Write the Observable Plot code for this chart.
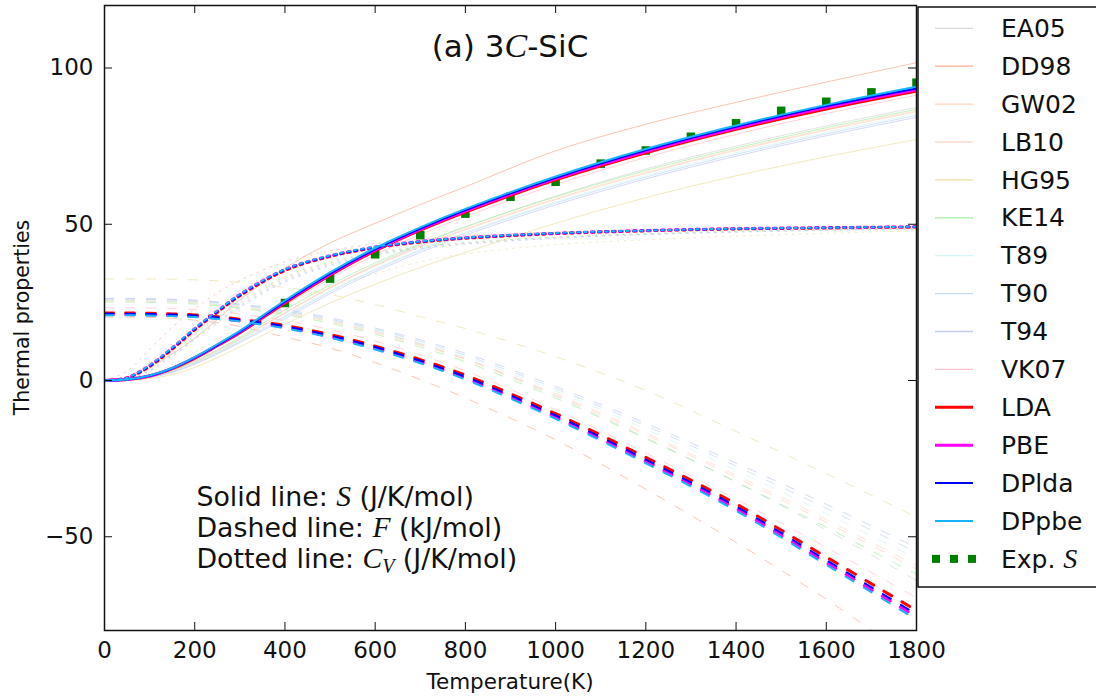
<!DOCTYPE html>
<html><head><meta charset="utf-8">
<script src="https://cdn.jsdelivr.net/npm/d3@7"></script>
<script src="https://cdn.jsdelivr.net/npm/@observablehq/plot@0.6"></script>
<style>
body{margin:0;background:#fff;}
#wrap{position:relative;width:1096px;height:699px;}
</style></head><body><div id="wrap"></div>
<script>
// Temperatures (K) at which curves were read
const temps = [0, 50, 100, 150, 200, 250, 300, 400, 500, 600, 700, 800, 1000, 1200, 1400, 1600, 1800];

const seriesNames  = ["EA05","DD98","GW02","LB10","HG95","KE14","T89","T90","T94","VK07","LDA","PBE","DPlda","DPpbe"];
const seriesColors = ["#d6d8de","#f8ae94","#fdd3bd","#fdd9c8","#ece0a2","#a6eea0","#d4f5f5","#c2d9ef","#c4ccf0","#ffc2cb","#ff0000","#ff00ff","#0000ff","#14b4ff"];
const seriesWidths = [1,1,1,1,1,1,1,1,1,1,3,3,2,2];

// Entropy S (J/K/mol) -- solid lines
const S_EA05  = [0,0.2,1.1,3.0,5.8,9.3,13.2,21.5,29.8,37.0,43.4,49.1,59.0,67.7,75.0,81.5,87.4];
const S_DD98  = [0,0.8,4.0,8.5,13.5,19.5,25.8,36.0,44.0,50.3,56.3,62.0,73.5,82.0,89.0,95.5,101.7];
const S_GW02  = [0,0.2,1.1,3.0,5.9,9.4,13.3,21.6,29.6,36.6,42.8,48.2,57.9,66.3,73.6,80.1,86.0];
const S_LB10  = [0,0.2,1.1,3.1,6.0,9.5,13.4,21.8,29.8,36.8,43.0,48.5,58.2,66.6,73.9,80.4,86.3];
const S_HG95  = [0,0.1,0.6,1.9,4.2,7.3,10.8,18.0,24.8,30.8,36.2,41.0,50.3,58.5,65.5,71.6,77.1];
const S_KE14  = [0,0.2,1.2,3.2,6.2,9.8,13.8,22.6,30.6,37.6,43.8,49.2,58.8,67.2,74.4,80.9,86.8];
const S_T89   = [0,0.2,1.0,2.8,5.6,9.0,12.8,20.8,28.8,35.8,42.0,47.5,57.2,65.6,72.9,79.4,85.3];
const S_T90   = [0,0.2,1.0,2.7,5.4,8.8,12.5,20.4,28.4,35.4,41.6,47.1,56.8,65.1,72.4,78.9,84.8];
const S_T94   = [0,0.2,0.9,2.6,5.2,8.5,12.1,19.8,27.8,34.8,41.0,46.5,56.2,64.5,71.8,78.3,84.2];
const S_VK07  = [0,0.3,1.4,3.7,7.0,10.8,14.9,24.0,32.6,40.2,46.7,52.5,62.7,71.4,78.8,85.4,91.3];
const S_LDA   = [0,0.3,1.4,3.8,7.1,11.1,15.3,24.8,33.7,41.5,48.1,53.9,64.2,72.9,80.4,86.9,92.6];
const S_PBE   = [0,0.3,1.5,3.9,7.3,11.3,15.5,25.1,34.0,41.8,48.4,54.2,64.6,73.3,80.8,87.4,93.1];
const S_DPlda = [0,0.3,1.5,3.9,7.3,11.3,15.6,25.2,34.2,42.0,48.6,54.5,64.9,73.7,81.2,87.8,93.5];
const S_DPpbe = [0,0.3,1.6,4.0,7.5,11.6,15.9,25.6,34.6,42.4,49.0,54.9,65.3,74.1,81.6,88.2,94.0];

// Free energy F (kJ/mol) -- dashed lines
const F_EA05  = [26.2,26.2,26.1,25.9,25.6,25.0,24.2,22.2,19.4,15.9,11.7,6.9,-5.0,-18.3,-32.5,-47.8,-64.0];
const F_DD98  = [20.3,20.3,20.2,19.9,19.3,18.5,17.3,13.9,10.4,5.7,0.3,-5.6,-19.0,-34.8,-51.8,-70.0,-90.0];
const F_GW02  = [25.5,25.5,25.4,25.2,24.9,24.3,23.5,21.5,18.8,15.3,11.3,6.7,-4.6,-17.4,-31.0,-45.4,-60.3];
const F_LB10  = [25.6,25.6,25.5,25.3,25.0,24.4,23.6,21.7,19.0,15.6,11.6,7.0,-4.2,-16.8,-30.3,-44.5,-59.2];
const F_HG95  = [32.5,32.5,32.5,32.4,32.2,31.9,31.4,29.8,27.5,24.3,20.4,16.6,7.6,-3.2,-16.3,-29.8,-43.7];
const F_KE14  = [25.1,25.1,25.0,24.8,24.5,23.9,23.1,21.1,18.3,14.8,10.7,6.0,-5.6,-18.6,-32.4,-47.0,-62.0];
const F_T89   = [25.8,25.8,25.7,25.5,25.2,24.6,23.9,22.0,19.3,15.9,12.0,7.5,-3.4,-15.6,-28.8,-42.6,-57.0];
const F_T90   = [26.0,26.0,25.9,25.7,25.4,24.9,24.2,22.3,19.7,16.4,12.5,8.1,-2.6,-14.5,-27.4,-40.9,-55.0];
const F_T94   = [26.3,26.3,26.2,26.0,25.7,25.2,24.5,22.7,20.1,16.8,13.0,8.7,-1.9,-13.7,-26.4,-39.6,-53.5];
const F_VK07  = [23.3,23.3,23.2,23.0,22.7,22.1,21.3,19.2,16.3,12.6,8.2,3.1,-9.3,-23.2,-38.0,-53.4,-69.5];
const F_LDA   = [21.6,21.6,21.5,21.3,21.0,20.4,19.6,17.6,14.7,11.0,6.7,1.7,-10.6,-24.6,-39.5,-56.5,-73.6];
const F_PBE   = [21.1,21.1,21.0,20.8,20.5,19.9,19.1,17.0,14.0,10.3,5.9,0.8,-11.7,-25.9,-41.0,-58.3,-75.6];
const F_DPlda = [21.4,21.4,21.3,21.1,20.8,20.2,19.4,17.3,14.4,10.7,6.3,1.2,-11.2,-25.3,-40.3,-57.5,-74.8];
const F_DPpbe = [20.9,20.9,20.8,20.6,20.3,19.7,18.9,16.7,13.7,9.9,5.5,0.3,-12.3,-26.5,-41.7,-59.0,-76.5];

// Heat capacity Cv (J/K/mol) -- dotted lines
const Cv_EA05  = [0,0.5,3.4,8.3,13.8,19.2,24.2,32.2,37.3,40.5,42.5,43.9,45.7,46.8,47.6,48.2,48.6];
const Cv_DD98  = [0,3.0,10.0,17.0,23.0,28.0,32.0,38.0,41.5,43.8,45.3,46.2,47.5,48.2,48.6,48.9,49.1];
const Cv_GW02  = [0,0.6,3.8,8.9,14.5,19.9,24.8,32.7,37.6,40.7,42.7,44.0,45.8,46.9,47.7,48.2,48.6];
const Cv_LB10  = [0,0.6,3.7,8.8,14.4,19.8,24.7,32.6,37.6,40.7,42.7,44.0,45.8,46.9,47.7,48.2,48.6];
const Cv_HG95  = [0,0.2,1.8,5.0,9.0,13.2,17.3,24.5,30.0,34.2,38.0,40.5,43.5,45.0,46.2,47.1,47.9];
const Cv_KE14  = [0,0.7,4.1,9.4,15.1,20.5,25.4,33.2,38.0,41.0,42.9,44.2,45.9,47.0,47.8,48.3,48.7];
const Cv_T89   = [0,0.5,3.3,8.1,13.5,18.9,23.9,31.9,37.0,40.3,42.4,43.8,45.6,46.8,47.6,48.1,48.5];
const Cv_T90   = [0,0.5,3.2,8.0,13.3,18.7,23.7,31.7,36.9,40.2,42.3,43.7,45.6,46.7,47.5,48.1,48.5];
const Cv_T94   = [0,0.4,3.0,7.7,13.0,18.4,23.4,31.5,36.7,40.1,42.2,43.6,45.5,46.7,47.5,48.0,48.5];
const Cv_VK07  = [0,1.2,5.8,11.8,18.0,23.5,28.5,36.0,40.2,42.9,44.6,45.8,47.2,48.0,48.6,48.9,49.2];
const Cv_LDA   = [0,0.8,4.5,10.0,16.2,21.8,27.1,35.2,39.7,42.5,44.3,45.5,47.0,47.9,48.5,48.8,49.1];
const Cv_PBE   = [0,0.9,4.8,10.4,16.6,22.2,27.5,35.5,39.9,42.7,44.5,45.7,47.1,48.0,48.6,48.9,49.2];
const Cv_DPlda = [0,0.8,4.6,10.2,16.4,22.0,27.3,35.4,39.8,42.6,44.4,45.6,47.1,48.0,48.5,48.9,49.2];
const Cv_DPpbe = [0,0.9,4.9,10.5,16.7,22.3,27.6,35.6,40.0,42.8,44.5,45.7,47.2,48.0,48.6,48.9,49.2];

// Experimental entropy
const expT = [400,500,600,700,800,900,1000,1100,1200,1300,1400,1500,1600,1700,1800];
const expS = [24.8,32.6,40.4,46.5,53.4,58.8,63.6,69.4,73.6,78.0,82.3,86.3,89.2,92.2,95.3];

const xTicks = [0,200,400,600,800,1000,1200,1400,1600,1800];
const yTicks = [-50,0,50,100];

const sArr  = {EA05:S_EA05,DD98:S_DD98,GW02:S_GW02,LB10:S_LB10,HG95:S_HG95,KE14:S_KE14,T89:S_T89,T90:S_T90,T94:S_T94,VK07:S_VK07,LDA:S_LDA,PBE:S_PBE,DPlda:S_DPlda,DPpbe:S_DPpbe};
const fArr  = {EA05:F_EA05,DD98:F_DD98,GW02:F_GW02,LB10:F_LB10,HG95:F_HG95,KE14:F_KE14,T89:F_T89,T90:F_T90,T94:F_T94,VK07:F_VK07,LDA:F_LDA,PBE:F_PBE,DPlda:F_DPlda,DPpbe:F_DPpbe};
const cArr  = {EA05:Cv_EA05,DD98:Cv_DD98,GW02:Cv_GW02,LB10:Cv_LB10,HG95:Cv_HG95,KE14:Cv_KE14,T89:Cv_T89,T90:Cv_T90,T94:Cv_T94,VK07:Cv_VK07,LDA:Cv_LDA,PBE:Cv_PBE,DPlda:Cv_DPlda,DPpbe:Cv_DPpbe};

const rowsOf = arr => temps.map((t, i) => ({T: t, v: arr[i]}));
const expRows = expT.map((t, i) => ({T: t, v: expS[i]}));

const W = 1096, H = 699;
const mL = 104, mR = 180, mT = 5, mB = 69;
const innerW = W - mL - mR, innerH = H - mT - mB;

function seriesMarks(idx) {
  const name = seriesNames[idx], color = seriesColors[idx], sw = seriesWidths[idx];
  const thick = sw > 1;
  const common = {x: "T", y: "v", stroke: color, strokeWidth: sw, strokeOpacity: thick ? 1 : 0.72, curve: "catmull-rom", clip: true};
  return [
    Plot.line(rowsOf(sArr[name]), {...common}),
    Plot.line(rowsOf(fArr[name]), {...common, strokeDasharray: "9,12"}),
    Plot.line(rowsOf(cArr[name]), {...common, strokeDasharray: thick ? "2.5,4.5" : "1.5,5.5"})
  ];
}

const marks = [];
for (let i = 0; i < 10; i++) marks.push(...seriesMarks(i));
marks.push(Plot.dot(expRows, {x: "T", y: "v", symbol: "square", r: 4.8, fill: "#008000", clip: true}));
for (let i = 10; i < 14; i++) marks.push(...seriesMarks(i));
marks.push(
  Plot.tickX(xTicks, {x: d => d, stroke: "#111", strokeWidth: 1, insetTop: innerH - 8}),
  Plot.tickX(xTicks, {x: d => d, stroke: "#111", strokeWidth: 1, insetBottom: innerH - 8}),
  Plot.tickY(yTicks, {y: d => d, stroke: "#111", strokeWidth: 1, insetRight: innerW - 8}),
  Plot.tickY(yTicks, {y: d => d, stroke: "#111", strokeWidth: 1, insetLeft: innerW - 8}),
  Plot.axisX({ticks: xTicks, tickSize: 0, tickPadding: 11, label: null, tickFormat: d => String(d)}),
  Plot.axisY({ticks: yTicks, tickSize: 0, tickPadding: 11, label: null, tickFormat: d => d < 0 ? "\u2212" + Math.abs(d) : String(d)}),
  Plot.frame({stroke: "#111", strokeWidth: 1.5})
);

const chart = Plot.plot({
  width: W, height: H,
  marginLeft: mL, marginRight: mR, marginTop: mT, marginBottom: mB,
  x: {domain: [0, 1800]},
  y: {domain: [-80, 120]},
  style: {fontFamily: "DejaVu Sans", fontSize: "23px", color: "#111", background: "white"},
  marks
});
document.getElementById("wrap").appendChild(chart);

const svg = d3.select(chart);
const xs = chart.scale("x"), ys = chart.scale("y");
const mathFont = "Liberation Serif";

// Axis titles
svg.append("text").attr("x", (mL + W - mR) / 2).attr("y", 689)
  .attr("text-anchor", "middle").attr("font-size", 21.5).attr("fill", "#111").text("Temperature(K)");
svg.append("text").attr("transform", `translate(29,${(mT + H - mB) / 2}) rotate(-90)`)
  .attr("text-anchor", "middle").attr("font-size", 20.5).attr("fill", "#111").text("Thermal properties");

// Title
const title = svg.append("text").attr("x", (mL + W - mR) / 2).attr("y", 57)
  .attr("text-anchor", "middle").attr("font-size", 31).attr("fill", "#111");
title.append("tspan").text("(a) 3");
title.append("tspan").attr("font-family", mathFont).attr("font-style", "italic").attr("font-size", 34).text("C");
title.append("tspan").text("-SiC");

// Annotation block
const annX = xs.apply(205), annY = ys.apply(-40.3);
const annLines = [
  ["Solid line: ", "S", null, " (J/K/mol)"],
  ["Dashed line: ", "F", null, " (kJ/mol)"],
  ["Dotted line: ", "C", "V", " (J/K/mol)"]
];
annLines.forEach((ln, i) => {
  const t = svg.append("text").attr("x", annX).attr("y", annY + i * 31)
    .attr("text-anchor", "start").attr("font-size", 26.8).attr("fill", "#111");
  t.append("tspan").text(ln[0]);
  t.append("tspan").attr("font-family", mathFont).attr("font-style", "italic").attr("font-size", 29.5).text(ln[1]);
  if (ln[2]) t.append("tspan").attr("font-family", mathFont).attr("font-style", "italic")
    .attr("font-size", 20).attr("dy", 5).text(ln[2]);
  t.append("tspan").attr("dy", ln[2] ? -5 : 0).text(ln[3]);
});

// Legend
const lg = svg.append("g").attr("text-anchor", "start");
lg.append("rect").attr("x", 918).attr("y", 7).attr("width", 200).attr("height", 580)
  .attr("fill", "white").attr("stroke", "#111").attr("stroke-width", 1.5);
const legendY0 = 28.3, legendDy = 37.9;
seriesNames.forEach((name, i) => {
  const y = legendY0 + i * legendDy;
  lg.append("line").attr("x1", 935).attr("x2", 973).attr("y1", y).attr("y2", y)
    .attr("stroke", seriesColors[i]).attr("stroke-width", seriesWidths[i] > 1 ? seriesWidths[i] : 1.3);
  lg.append("text").attr("x", 1001).attr("y", y + 8.6).attr("font-size", 25).attr("fill", "#111").text(name);
});
{
  const y = legendY0 + 14 * legendDy;
  [936, 954, 972].forEach(x => lg.append("rect").attr("x", x - 4).attr("y", y - 4).attr("width", 8).attr("height", 8).attr("fill", "#008000"));
  const t = lg.append("text").attr("x", 1001).attr("y", y + 8.6).attr("font-size", 25).attr("fill", "#111");
  t.append("tspan").text("Exp. ");
  t.append("tspan").attr("font-family", mathFont).attr("font-style", "italic").attr("font-size", 28).text("S");
}
</script>
</body></html>
